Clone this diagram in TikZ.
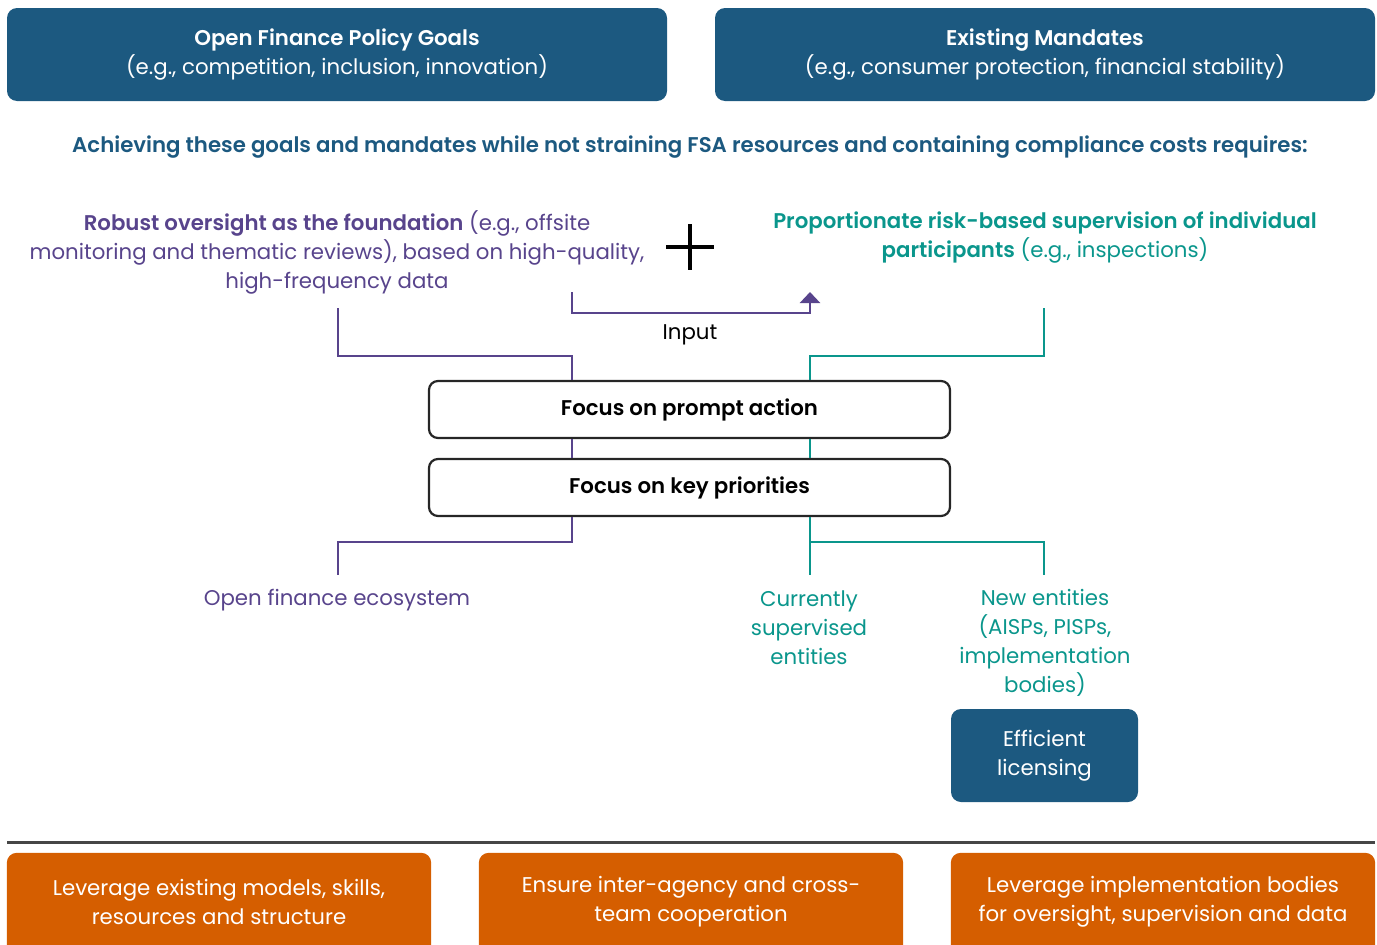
\documentclass[tikz,border=0pt]{standalone}
\usepackage{fontspec}
\setmainfont{Poppins}[BoldFont={Poppins SemiBold}]
\usetikzlibrary{arrows.meta,backgrounds}

\definecolor{fsablue}{RGB}{28,89,128}
\definecolor{fsapurple}{RGB}{88,68,140}
\definecolor{fsateal}{RGB}{10,150,140}
\definecolor{fsaorange}{RGB}{213,94,0}
\definecolor{ruleline}{RGB}{70,70,70}

\newcommand{\bodyfont}{\fontsize{21.3}{29}\selectfont}

\tikzset{
  topbox/.style={fill=fsablue, text=white, rounded corners=10pt,
    minimum width=660pt, minimum height=93pt, align=center},
  focusbox/.style={draw=black!85, line width=2.2pt, rounded corners=9pt,
    minimum width=521pt, minimum height=57pt, font=\bodyfont\bfseries},
  licbox/.style={fill=fsablue, text=white, rounded corners=10pt,
    minimum width=187pt, minimum height=93pt, align=center},
  leverbox/.style={text=white, minimum width=424pt, minimum height=94pt,
    align=center},
  oversight/.style={draw=fsapurple, line width=2.5pt},
  supervision/.style={draw=fsateal, line width=2.5pt},
}

\begin{document}
\begin{tikzpicture}[x=1pt, y=-1pt, font=\bodyfont]
  \useasboundingbox (0,0) rectangle (1377,945);
  \clip (0,0) rectangle (1377,945);

  % goals and mandates
  \node[topbox] (goals) at (337,54.5)
    {\textbf{Open Finance Policy Goals}\\(e.g., competition, inclusion, innovation)};
  \node[topbox] (mandates) at (1045,54.5)
    {\textbf{Existing Mandates}\\(e.g., consumer protection, financial stability)};
  \node[text=fsablue, font=\bodyfont\bfseries] (requires) at (690,147)
    {Achieving these goals and mandates while not straining FSA resources and containing compliance costs requires:};

  % the two pillars
  \node[text=fsapurple, align=center] (robust) at (337,252)
    {\textbf{Robust oversight as the foundation} (e.g., offsite\\monitoring and thematic reviews), based on high-quality,\\high-frequency data};
  \node[text=fsateal, align=center] (proport) at (1045,237.5)
    {\textbf{Proportionate risk-based supervision of individual}\\\textbf{participants} (e.g., inspections)};
  \node (plus) at (690,247) {};
  \draw[line width=4.5pt] ([xshift=-24pt]plus.center) -- ([xshift=24pt]plus.center);
  \draw[line width=4.5pt] ([yshift=23pt]plus.center) -- ([yshift=-23pt]plus.center);

  \coordinate (inpA) at (572,292);
  \coordinate (inpB) at (810,292);
  \draw[oversight, -{Triangle[width=20pt,length=11pt]}] (inpA) -- ++(0,21) -| (inpB);
  \node (input) at (690,335) {Input};

  % focus boxes
  \node[focusbox] (prompt) at (689.5,409.5) {Focus on prompt action};
  \node[focusbox] (priority) at (689.5,487.5) {Focus on key priorities};

  \coordinate (lcol) at (572,0);
  \coordinate (rcol) at (810,0);
  \coordinate (robustfoot) at (338,308);
  \coordinate (proportfoot) at (1044,308);
  \coordinate (ecotop) at (338,575);
  \coordinate (currtop) at (810,575);
  \coordinate (newtop) at (1044,575);

  \draw[oversight] (robustfoot) -- ++(0,48) -| (lcol |- prompt.north);
  \draw[supervision] (proportfoot) -- ++(0,48) -| (rcol |- prompt.north);
  \draw[oversight] (lcol |- prompt.south) -- (lcol |- priority.north);
  \draw[supervision] (rcol |- prompt.south) -- (rcol |- priority.north);
  \draw[oversight] (lcol |- priority.south) -- ++(0,25) -| (ecotop);
  \draw[supervision] (rcol |- priority.south) -- (currtop);
  \draw[supervision] (rcol |- priority.south) ++(0,25) -| (newtop);

  % who is supervised
  \node[text=fsapurple] (eco) at (337,600) {Open finance ecosystem};
  \node[text=fsateal, align=center] (curr) at (809,628) {Currently\\supervised\\entities};
  \node[text=fsateal, align=center] (newent) at (1045,643)
    {New entities\\(AISPs, PISPs,\\implementation\\bodies)};
  \node[licbox] (licensing) at (1044.5,755.5) {Efficient\\licensing};

  % enablers
  \draw[ruleline, line width=3pt] (7,842) -- (1375,842);
  \node[leverbox] (reuse) at (219,902) {Leverage existing models, skills,\\resources and structure};
  \node[leverbox] (coop) at (691,902) {Ensure inter-agency and cross-\\team cooperation};
  \node[leverbox] (bodies) at (1163,902) {Leverage implementation bodies\\for oversight, supervision and data};
  \begin{scope}[on background layer]
    \foreach \n in {reuse,coop,bodies}
      \fill[fsaorange, rounded corners=10pt] ([yshift=2pt]\n.north west) rectangle ([yshift=-30pt]\n.south east);
  \end{scope}
\end{tikzpicture}
\end{document}
